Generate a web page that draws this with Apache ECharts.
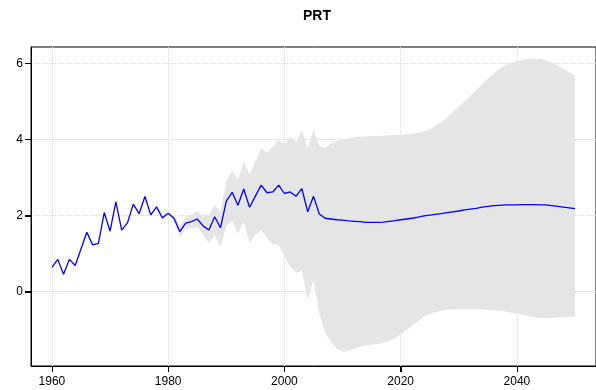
<!DOCTYPE html>
<html>
<head>
<meta charset="utf-8">
<script src="https://cdn.jsdelivr.net/npm/echarts@6/dist/echarts.min.js"></script>
<style>html,body{margin:0;padding:0;background:#fff;}#c{width:596px;height:390px;}</style>
</head>
<body>
<div id="c"></div>
<script>
var chartTitle = 'PRT';
var xTicks = [1960, 1980, 2000, 2020, 2040];
var yTicks = [0, 2, 4, 6];

var years = [1960,1961,1962,1963,1964,1965,1966,1967,1968,1969,
  1970,1971,1972,1973,1974,1975,1976,1977,1978,1979,
  1980,1981,1982,1983,1984,1985,1986,1987,1988,1989,
  1990,1991,1992,1993,1994,1995,1996,1997,1998,1999,
  2000,2001,2002,2003,2004,2005,2006,2007,2008,2009,
  2010,2011,2012,2013,2014,2015,2016,2017,2018,2019,
  2020,2021,2022,2023,2024,2025,2026,2027,2028,2029,
  2030,2031,2032,2033,2034,2035,2036,2037,2038,2039,
  2040,2041,2042,2043,2044,2045,2046,2047,2048,2049,2050];

var values = [0.64,0.85,0.46,0.85,0.69,1.12,1.56,1.23,1.27,2.08,
  1.59,2.36,1.62,1.81,2.30,2.05,2.50,2.02,2.23,1.94,
  2.06,1.93,1.58,1.80,1.84,1.91,1.73,1.62,1.97,1.68,
  2.38,2.61,2.27,2.70,2.22,2.51,2.80,2.60,2.62,2.80,
  2.58,2.62,2.51,2.71,2.10,2.51,2.04,1.93,1.91,1.89,
  1.88,1.86,1.85,1.84,1.82,1.82,1.82,1.83,1.85,1.87,
  1.89,1.91,1.93,1.96,1.99,2.01,2.03,2.05,2.08,2.10,
  2.12,2.15,2.17,2.19,2.22,2.24,2.26,2.27,2.28,2.28,
  2.28,2.29,2.29,2.29,2.28,2.28,2.26,2.24,2.22,2.20,2.18];

var bandYears = [1980,1981,1982,1983,1984,1985,1986,1987,1988,1989,
  1990,1991,1992,1993,1994,1995,1996,1997,1998,1999,
  2000,2001,2002,2003,2004,2005,2006,2007,2008,2009,
  2010,2011,2012,2013,2014,2015,2016,2017,2018,2019,
  2020,2021,2022,2023,2024,2025,2026,2027,2028,2029,
  2030,2031,2032,2033,2034,2035,2036,2037,2038,2039,
  2040,2041,2042,2043,2044,2045,2046,2047,2048,2049,2050];

var bandUpper = [2.06,2.03,1.72,1.96,2.02,2.12,1.97,2.00,2.28,2.10,
  2.90,3.20,2.94,3.42,3.07,3.42,3.77,3.66,3.81,3.98,
  3.88,4.07,3.94,4.25,3.77,4.25,3.85,3.77,3.90,3.95,
  4.00,4.03,4.05,4.07,4.08,4.09,4.09,4.10,4.11,4.12,
  4.12,4.13,4.15,4.17,4.21,4.27,4.36,4.46,4.58,4.72,
  4.86,5.01,5.15,5.30,5.45,5.60,5.73,5.85,5.95,6.01,
  6.06,6.09,6.11,6.12,6.11,6.08,6.02,5.94,5.85,5.77,5.69];

var bandLower = [2.06,1.83,1.44,1.64,1.66,1.70,1.49,1.27,1.49,1.18,
  1.71,1.88,1.53,1.84,1.27,1.49,1.62,1.40,1.25,1.23,
  0.92,0.66,0.50,0.55,-0.22,0.30,-0.57,-1.09,-1.31,-1.50,
  -1.58,-1.56,-1.50,-1.44,-1.41,-1.39,-1.37,-1.34,-1.29,-1.22,
  -1.12,-1.01,-0.89,-0.77,-0.66,-0.58,-0.53,-0.50,-0.48,-0.47,
  -0.46,-0.46,-0.46,-0.46,-0.47,-0.48,-0.49,-0.50,-0.52,-0.55,
  -0.58,-0.61,-0.64,-0.67,-0.70,-0.70,-0.69,-0.68,-0.67,-0.66,-0.66];

var X_MIN = 1956.4, X_MAX = 2053.6, Y_MIN = -1.951, Y_MAX = 6.428;

var lineData = years.map(function (y, i) { return [y, values[i]]; });
var bandData = bandYears.map(function (y, i) { return [y, bandLower[i], bandUpper[i]]; });

var chart = echarts.init(document.getElementById('c'), null, {renderer: 'canvas'});
var option = {
  animation: false,
  backgroundColor: '#ffffff',
  title: {
    text: chartTitle,
    left: 303, top: 9, padding: 0,
    textStyle: {fontFamily: 'Liberation Sans, Arial, sans-serif', fontWeight: 'bold', fontSize: 14, color: '#000'}
  },
  grid: {
    left: 31, top: 47, width: 574, height: 319,
    show: true, borderColor: '#000', borderWidth: 1, backgroundColor: 'transparent'
  },
  xAxis: {
    type: 'value', min: X_MIN, max: X_MAX,
    axisLine: {show: true, onZero: false, lineStyle: {color: '#000', width: 1}},
    axisTick: {show: true, length: 6, inside: false, customValues: xTicks, lineStyle: {color: '#000', width: 1}},
    axisLabel: {show: true, customValues: xTicks, margin: 10, color: '#000', fontSize: 12,
      fontFamily: 'Liberation Sans, Arial, sans-serif', formatter: function (v) { return String(v); }},
    splitLine: {show: true, lineStyle: {color: '#d8d8d8', type: 'dotted', width: 1}}
  },
  yAxis: {
    type: 'value', min: Y_MIN, max: Y_MAX,
    axisLine: {show: true, onZero: false, lineStyle: {color: '#000', width: 1}},
    axisTick: {show: true, length: 6, inside: false, customValues: yTicks, lineStyle: {color: '#000', width: 1}},
    axisLabel: {show: true, customValues: yTicks, margin: 8, color: '#000', fontSize: 12,
      fontFamily: 'Liberation Sans, Arial, sans-serif', formatter: function (v) { return String(v); }},
    splitLine: {show: true, lineStyle: {color: '#d8d8d8', type: 'dotted', width: 1}}
  },
  series: [
    {
      type: 'custom',
      z: 3,
      silent: true,
      encode: {x: 0, y: [1, 2]},
      data: bandData,
      renderItem: function (params, api) {
        if (params.dataIndex !== 0) { return null; }
        var pts = [];
        for (var i = 0; i < bandYears.length; i++) {
          pts.push(api.coord([bandYears[i], bandUpper[i]]));
        }
        for (var j = bandYears.length - 1; j >= 0; j--) {
          pts.push(api.coord([bandYears[j], bandLower[j]]));
        }
        return {
          type: 'polygon',
          shape: {points: pts},
          style: {fill: '#e5e5e5', stroke: null}
        };
      }
    },
    {
      type: 'line',
      z: 4,
      data: lineData,
      showSymbol: false,
      symbol: 'none',
      lineStyle: {color: '#0000ff', width: 1.3},
      silent: true
    }
  ]
};
chart.setOption(option);

// Outer tick marks placed through the chart's own scales
var tickEls = [];
xTicks.forEach(function (t) {
  var p = chart.convertToPixel({gridIndex: 0}, [t, Y_MIN]);
  var x = Math.round(p[0]) + 0.5, y = Math.round(p[1]);
  tickEls.push({type: 'line', z: 10, silent: true,
    shape: {x1: x, y1: y, x2: x, y2: y + 6}, style: {stroke: '#000', lineWidth: 1}});
});
yTicks.forEach(function (t) {
  var p = chart.convertToPixel({gridIndex: 0}, [X_MIN, t]);
  var x = Math.round(p[0]), y = Math.round(p[1]) + 0.5;
  tickEls.push({type: 'line', z: 10, silent: true,
    shape: {x1: x - 6, y1: y, x2: x, y2: y}, style: {stroke: '#000', lineWidth: 1}});
});
chart.setOption({graphic: tickEls});
</script>
</body>
</html>
